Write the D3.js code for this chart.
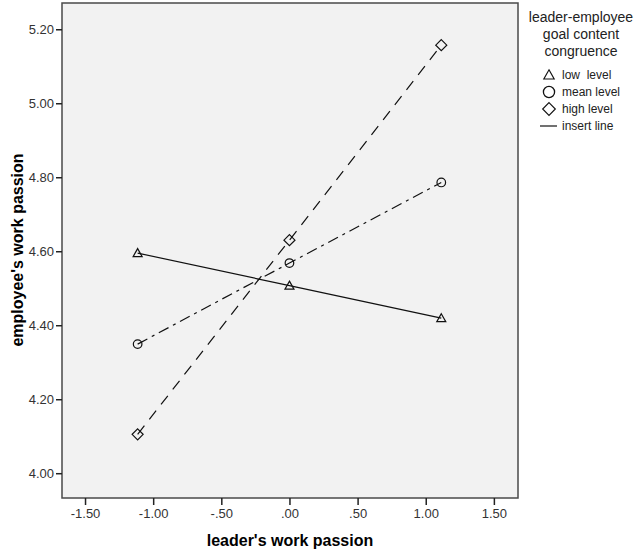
<!DOCTYPE html>
<html>
<head>
<meta charset="utf-8">
<script src="https://cdn.jsdelivr.net/npm/d3@7"></script>
<style>
  body { margin: 0; background: #fff; }
  svg text { font-family: "Liberation Sans", Arial, sans-serif; }
</style>
</head>
<body>
<svg id="chart" width="638" height="555"></svg>
<script>
// data
const xLevels = [-1.114, 0, 1.114]
const lowLevel = [4.595, 4.507, 4.419]
const meanLevel = [4.349, 4.568, 4.786]
const highLevel = [4.105, 4.630, 5.157]
const xTicks = [-1.5, -1, -0.5, 0, 0.5, 1, 1.5]
const yTicks = [4.0, 4.2, 4.4, 4.6, 4.8, 5.0, 5.2]
const legendTitle = ["leader-employee", "goal content", "congruence"]
const legendLabels = ["low  level", "mean level", "high level", "insert line"]

const series = [
    {name: "low", values: lowLevel, shape: "triangle", dash: null},
    {name: "mean", values: meanLevel, shape: "circle", dash: "11,5,3,5"},
    {name: "high", values: highLevel, shape: "diamond", dash: "11,8"}
]

const svg = d3.select("#chart")
const frame = {left: 62, right: 518, top: 3, bottom: 498}

const x = d3.scaleLinear().domain([-1.669, 1.677]).range([frame.left, frame.right])
const y = d3.scaleLinear().domain([3.933, 5.271]).range([frame.bottom, frame.top])

// spss style number labels: plain hyphen, drop the leading zero
const spssFmt = v => d3.format(".2f")(v).replace("\u2212", "-").replace(/^(-?)0\./, "$1.")

// plot background
svg.append("rect")
    .attr("x", frame.left).attr("y", frame.top)
    .attr("width", frame.right - frame.left)
    .attr("height", frame.bottom - frame.top)
    .attr("fill", "#f2f2f2")
    .attr("stroke", "#4a4a4a")
    .attr("stroke-width", 1.5)

// axes
const xAxis = svg.append("g")
    .attr("transform", `translate(0,${frame.bottom})`)
    .call(d3.axisBottom(x).tickValues(xTicks).tickFormat(spssFmt).tickSize(7).tickPadding(4))
const yAxis = svg.append("g")
    .attr("transform", `translate(${frame.left},0)`)
    .call(d3.axisLeft(y).tickValues(yTicks).tickFormat(spssFmt).tickSize(6).tickPadding(2))

;[xAxis, yAxis].forEach(g => {
    g.select(".domain").remove()
    g.selectAll(".tick line").attr("stroke", "#222").attr("stroke-width", 1.5)
    g.selectAll(".tick text").attr("fill", "#333").attr("font-size", 13)
        .style("font-family", "'Liberation Sans', Arial, sans-serif")
})

// axis titles
svg.append("text")
    .attr("x", 290).attr("y", 546)
    .attr("text-anchor", "middle")
    .attr("font-size", 16).attr("font-weight", "bold")
    .text("leader's work passion")
svg.append("text")
    .attr("transform", "translate(23,250) rotate(-90)")
    .attr("text-anchor", "middle")
    .attr("font-size", 16).attr("font-weight", "bold")
    .text("employee's work passion")

// shapes
function shapePath(shape) {
    if (shape === "triangle") return "M0,-4.5L4.5,3.5L-4.5,3.5Z"
    if (shape === "diamond") return "M0,-5.5L5.5,0L0,5.5L-5.5,0Z"
    return d3.arc()({innerRadius: 0, outerRadius: 4.3, startAngle: 0, endAngle: 2 * Math.PI})
}

const line = d3.line().x((d, i) => x(xLevels[i])).y(d => y(d))

series.forEach(s => {
    svg.append("path")
        .attr("d", line(s.values))
        .attr("fill", "none")
        .attr("stroke", "#111")
        .attr("stroke-width", 1.2)
        .attr("stroke-dasharray", s.dash)

    svg.selectAll(".pt-" + s.name)
        .data(s.values)
        .join("path")
            .attr("class", "pt-" + s.name)
            .attr("transform", (d, i) => `translate(${x(xLevels[i])},${y(d)})`)
            .attr("d", shapePath(s.shape))
            .attr("fill", "none")
            .attr("stroke", "#111")
            .attr("stroke-width", 1.2)
})

// legend
const legend = svg.append("g")
legend.selectAll(".ltitle")
    .data(legendTitle)
    .join("text")
        .attr("x", 581)
        .attr("y", (d, i) => 22 + i * 17)
        .attr("text-anchor", "middle")
        .attr("font-size", 14)
        .attr("fill", "#222")
        .text(d => d)

const legendShapes = ["triangle", "circle", "diamond", "line"]
legendShapes.forEach((shape, i) => {
    const cy = 75 + i * 17
    if (shape === "line") {
        legend.append("line")
            .attr("x1", 540).attr("x2", 557)
            .attr("y1", cy).attr("y2", cy)
            .attr("stroke", "#111").attr("stroke-width", 1.2)
    } else {
        const big = shape === "circle" ? "scale(1.3)" : "scale(1.15)"
        legend.append("path")
            .attr("transform", `translate(549,${cy}) ${big}`)
            .attr("d", shapePath(shape))
            .attr("fill", "none")
            .attr("stroke", "#111")
            .attr("stroke-width", 1)
    }
    legend.append("text")
        .attr("x", 562).attr("y", cy + 4)
        .attr("font-size", 12)
        .attr("fill", "#222")
        .attr("xml:space", "preserve")
        .text(legendLabels[i])
})
</script>
</body>
</html>
